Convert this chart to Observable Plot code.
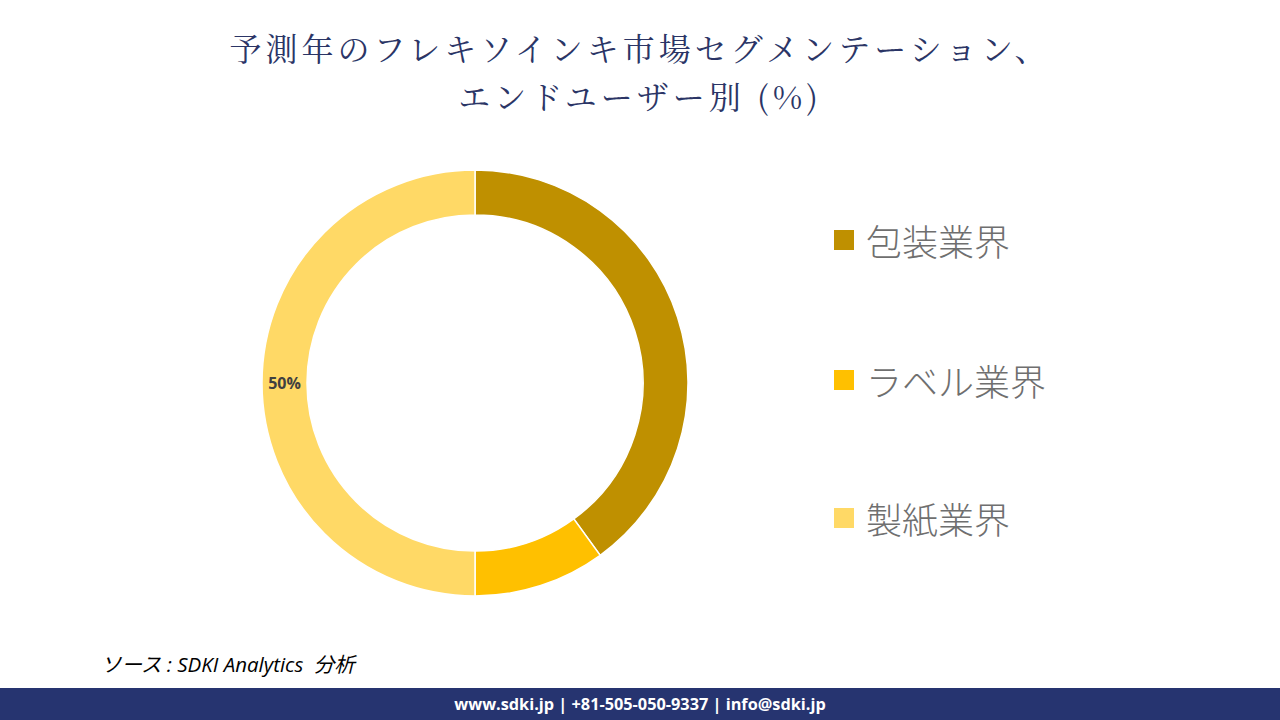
<!DOCTYPE html>
<html>
<head>
<meta charset="utf-8">
<script src="https://cdn.jsdelivr.net/npm/d3@7"></script>
<script src="https://cdn.jsdelivr.net/npm/@observablehq/plot@0.6"></script>
<style>
  html, body { margin: 0; padding: 0; background: #fff; }
  #page { position: relative; width: 1280px; height: 720px; overflow: hidden; background: #fff; }
  .tline { position: absolute; left: 0; width: 1280px; text-align: center; height: 40px; white-space: nowrap;
    font-family: "Noto Serif CJK JP", serif, "Noto Sans CJK JP"; font-size: 32px; letter-spacing: 4px; line-height: 40px; color: #2b3566; }
  #chart { position: absolute; left: 0; top: 130px; }
  #legend { position: absolute; left: 834px; top: 0; font-family: "Noto Sans CJK JP", sans-serif; font-weight: 300; color: #6f6f6f; font-size: 36px; }
  .item { position: absolute; white-space: nowrap; display: flex; align-items: center; }
  .sw { width: 20px; height: 20px; margin-right: 12px; }
  #source { position: absolute; left: 101px; top: 648px; font-family: "Open Sans", "Noto Sans CJK JP", sans-serif; font-style: italic; font-size: 20.5px; color: #000; white-space: pre; }
  #footer { position: absolute; left: 0; top: 688px; width: 1280px; height: 32px; background: #263470; color: #fff;
    font-family: "Open Sans", sans-serif; font-weight: 700; font-size: 16.3px; line-height: 32px; text-align: center; }
</style>
</head>
<body>
<div id="page">
  <div class="tline" style="top:27px">予測年のフレキソインキ市場セグメンテーション、</div>
  <div class="tline" style="top:75px">エンドユーザー別 (%)</div>
  <div id="chart"></div>
  <div id="legend"></div>
  <div id="source">ソース : SDKI Analytics  分析</div>
  <div id="footer">www.sdki.jp | +81-505-050-9337 | info@sdki.jp</div>
</div>
<script>
const categories = ["包装業界", "ラベル業界", "製紙業界"];
const shares = [40, 10, 50];
const labels = ["", "", "50%"];
const colors = ["#bf9000", "#ffc000", "#ffd966"];

const data = categories.map((c, i) => ({category: c, share: shares[i], label: labels[i]}));

const W = 1280, H = 500;
const cx = 475, cy = 253;
const rOuter = 213, rInner = 168;

const pie = d3.pie().sort(null).value(d => d.share);
const arcs = pie(data);
const arcGen = d3.arc().innerRadius(rInner).outerRadius(rOuter);

function donut(index, scales, values, dimensions) {
  const g = d3.create("svg:g");
  const x0 = scales.x(cx), y0 = scales.y(cy);
  g.attr("transform", `translate(${x0},${y0})`);
  g.selectAll("path").data(arcs).join("path")
    .attr("d", arcGen)
    .attr("fill", d => scales.color(d.data.category))
    .attr("stroke", "#fff")
    .attr("stroke-width", 1.5);
  g.selectAll("text").data(arcs.filter(d => d.data.label)).join("text")
    .attr("transform", d => `translate(${arcGen.centroid(d)})`)
    .attr("text-anchor", "middle")
    .attr("dominant-baseline", "central")
    .attr("font-family", "'Open Sans', sans-serif")
    .attr("font-weight", 700)
    .attr("font-size", 16)
    .attr("fill", "#404040")
    .text(d => d.data.label);
  return g.node();
}

const chart = Plot.plot({
  width: W,
  height: H,
  margin: 0,
  x: {domain: [0, W], range: [0, W], axis: null},
  y: {domain: [0, H], range: [0, H], axis: null},
  color: {domain: categories, range: colors},
  marks: [
    Plot.dot(data, {x: () => cx, y: () => cy, fill: "category", r: 0}),
    donut
  ]
});
document.getElementById("chart").appendChild(chart);

const legend = document.getElementById("legend");
const legendY = [240, 380, 518];
categories.forEach((c, i) => {
  const item = document.createElement("div");
  item.className = "item";
  item.style.top = (legendY[i] - 25) + "px";
  item.style.height = "50px";
  const sw = document.createElement("div");
  sw.className = "sw";
  sw.style.background = colors[i];
  const t = document.createElement("span");
  t.textContent = c;
  item.appendChild(sw);
  item.appendChild(t);
  legend.appendChild(item);
});
</script>
</body>
</html>
